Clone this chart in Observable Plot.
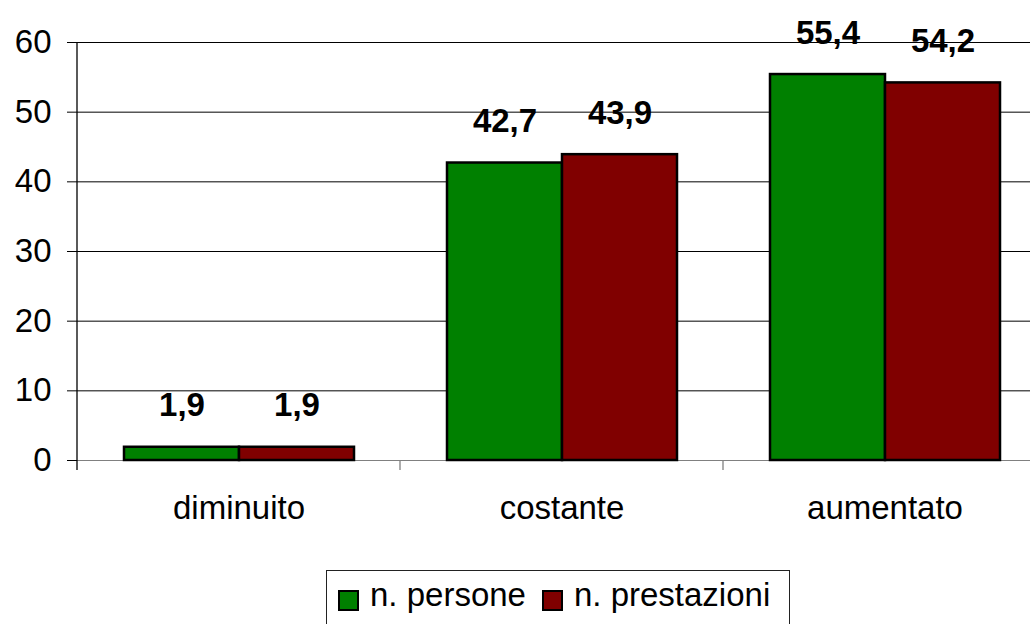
<!DOCTYPE html>
<html>
<head>
<meta charset="utf-8">
<script src="https://cdn.jsdelivr.net/npm/d3@7"></script>
<script src="https://cdn.jsdelivr.net/npm/@observablehq/plot@0.6"></script>
<style>
  html, body { margin: 0; padding: 0; background: #fff; overflow: hidden; }
  #wrap { position: relative; width: 1030px; height: 624px; overflow: hidden; font-family: "Liberation Sans", Arial, sans-serif; }
  #wrap svg { max-width: none !important; width: 1046px; height: 570px; display: block; }
  #legend { position: absolute; left: 326px; top: 570px; width: 464px; height: 80px; box-sizing: border-box;
            border: 1.5px solid #222; display: flex; align-items: flex-start; padding: 7px 0 0 11px; }
  .item { display: flex; align-items: flex-start; margin-right: 16px; }
  .sw { width: 17px; height: 17px; border: 2px solid #000; margin: 12px 11px 0 0; }
  .lab { font-size: 33px; line-height: 33px; color: #000; white-space: nowrap; }
</style>
</head>
<body>
<div id="wrap"></div>
<script>
const categories = ["diminuito", "costante", "aumentato"];
const series = ["n. persone", "n. prestazioni"];
const persone = [1.9, 42.7, 55.4];
const prestazioni = [1.9, 43.9, 54.2];
const colors = ["#008000", "#800000"];
const yTicks = [0, 10, 20, 30, 40, 50, 60];

const data = [];
categories.forEach((c, i) => {
  data.push({category: c, series: series[0], value: persone[i]});
  data.push({category: c, series: series[1], value: prestazioni[i]});
});
const fmt = v => v.toFixed(1).replace(".", ",");

const plot = Plot.plot({
  width: 1046,
  height: 570,
  marginLeft: 77,
  marginRight: 0,
  marginTop: 42,
  marginBottom: 110,
  style: {fontFamily: "'Liberation Sans', Arial, sans-serif", fontSize: "33px", background: "#fff", color: "#000", maxWidth: "none"},
  fx: {domain: categories, padding: 0, axis: null, label: null},
  x: {domain: series, paddingInner: 0, paddingOuter: 0.4, axis: null, label: null},
  y: {domain: [0, 60], axis: null, label: null},
  color: {domain: series, range: colors},
  marks: [
    Plot.gridY(yTicks.filter(t => t > 0), {stroke: "#000", strokeOpacity: 1}),
    Plot.ruleY([0], {stroke: "#808080"}),
    Plot.barY(data, {fx: "category", x: "series", y: "value", fill: "series", stroke: "#000", strokeWidth: 2.5}),
    Plot.text(data, {fx: "category", x: "series", y: "value", text: d => fmt(d.value),
      dy: -31, lineAnchor: "bottom", fontWeight: "bold", fontSize: 33, fill: "#000"}),
    Plot.axisY({ticks: yTicks, tickSize: 10, tickPadding: 16, tickFormat: d => String(d), fontSize: 33, label: null}),
    Plot.axisFx({anchor: "bottom", tickSize: 0, tickPadding: 35, fontSize: 33, label: null})
  ]
});

// y-axis line and category boundary ticks, from the plot's own scales
const fx = plot.scale("fx");
const y = plot.scale("y");
const svg = d3.select(plot);
const bounds = categories.map(c => fx.apply(c)).concat([fx.range[1]]);
const g = svg.append("g");
const y0 = y.apply(0), yTop = y.apply(60);
g.append("line").attr("x1", bounds[0]).attr("x2", bounds[0]).attr("y1", yTop).attr("y2", y0 + 10)
  .attr("stroke", "#000").attr("stroke-width", 1.3);
bounds.slice(1).forEach(b => {
  g.append("line").attr("x1", b).attr("x2", b).attr("y1", y0).attr("y2", y0 + 10)
    .attr("stroke", "#808080").attr("stroke-width", 1.3);
});

const wrap = document.getElementById("wrap");
wrap.appendChild(plot);

const legend = document.createElement("div");
legend.id = "legend";
series.forEach((s, i) => {
  const it = document.createElement("div");
  it.className = "item";
  const sw = document.createElement("div");
  sw.className = "sw";
  sw.style.background = colors[i];
  const lab = document.createElement("span");
  lab.className = "lab";
  lab.textContent = s;
  it.appendChild(sw);
  it.appendChild(lab);
  legend.appendChild(it);
});
wrap.appendChild(legend);
</script>
</body>
</html>
